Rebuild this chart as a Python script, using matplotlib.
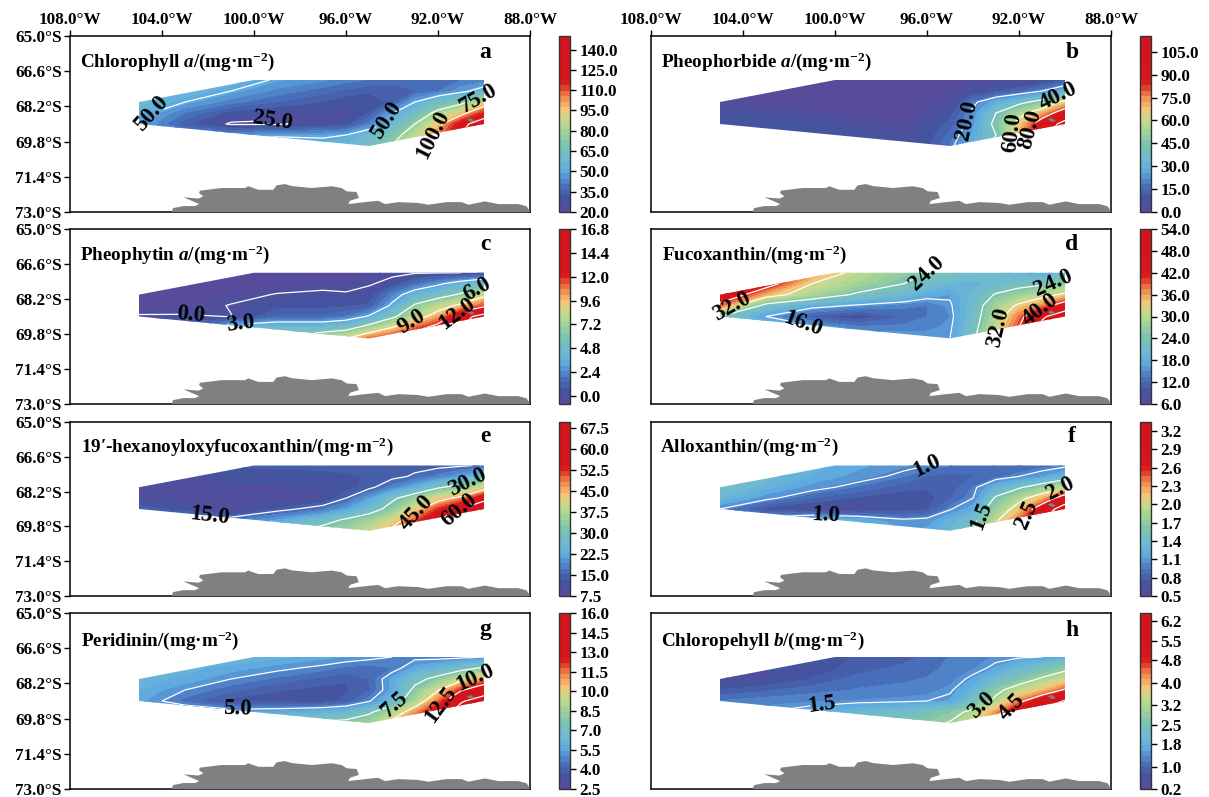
import numpy as np
import matplotlib
matplotlib.use('Agg')
import matplotlib.pyplot as plt
from matplotlib.colors import LinearSegmentedColormap
from matplotlib.patches import Polygon

plt.rcParams['font.family'] = 'Liberation Serif'
plt.rcParams['font.weight'] = 'bold'
plt.rcParams['mathtext.fontset'] = 'custom'
plt.rcParams['mathtext.rm'] = 'Liberation Serif:bold'
plt.rcParams['mathtext.it'] = 'Liberation Serif:italic:bold'
plt.rcParams['mathtext.bf'] = 'Liberation Serif:bold'
plt.rcParams['mathtext.default'] = 'regular'
plt.rcParams['axes.unicode_minus'] = False

W, H = 1209, 797

lons = [105, 103, 101, 99, 97, 96, 95, 94, 93, 92, 91, 90]
lats = [67, 67.5, 68, 68.5, 69, 69.5, 70]

domain_lon = [105, 100, 90, 90, 95, 105]
domain_lat = [68, 67, 67, 69, 70, 69]

land_lon = [103.58, 103.51, 103.07, 102.57, 102.38, 103.07, 102.42, 102.2, 102.39, 102.35, 101.41, 100.39, 100.25,
            99.81, 99.16, 99.02, 98.65, 98.36, 97.49, 96.62, 96.19, 95.97, 95.54, 95.44, 95.83, 95.9, 95.17, 94.6,
            94.3, 93.73, 92.86, 92.42, 91.62, 90.97, 90.68, 89.96, 89.38, 88.51, 88.15, 88.0, 88.0, 103.58]
land_lat = [72.97, 72.82, 72.73, 72.73, 72.64, 72.33, 72.39, 72.29, 72.14, 72.03, 71.91, 71.91, 71.83,
            71.99, 71.99, 71.79, 71.73, 71.82, 71.91, 71.83, 71.91, 72.06, 72.09, 72.36, 72.49, 72.64, 72.55, 72.49,
            72.64, 72.55, 72.59, 72.67, 72.55, 72.55, 72.67, 72.52, 72.64, 72.64, 72.74, 72.97, 73.0, 73.0]
island_lon = [90.75, 90.6, 90.4, 90.55]
island_lat = [68.8, 68.72, 68.85, 68.92]

lon_ticks = [108, 104, 100, 96, 92, 88]
lat_ticks = [65.0, 66.6, 68.2, 69.8, 71.4, 73.0]

chl_a = [
    [60, 60, 55, 49, 45, 42, 40, 38, 38, 38, 40, 42],
    [60, 56, 50, 43, 38, 35, 33, 33, 36, 40, 47, 55],
    [58, 50, 42, 36, 32, 29, 29, 33, 50, 62, 70, 90],
    [54, 40, 30, 27, 26, 27, 32, 49, 62, 80, 95, 115],
    [50, 33, 24, 24, 28, 30, 42, 56, 75, 95, 120, 135],
    [50, 45, 45, 48, 48, 50, 58, 68, 85, 105, 125, 140],
    [60, 60, 60, 60, 55, 58, 62, 75, 95, 115, 135, 149],
]
pheophorbide = [
    [2, 2, 2, 2, 2, 2, 2, 3, 3, 4, 6, 10],
    [2, 2, 2, 2, 2, 2, 3, 6, 10, 14, 20, 30],
    [3, 2, 2, 2, 2, 3, 5, 18, 28, 36, 45, 65],
    [8, 7, 4, 2, 2, 5, 9, 22, 40, 55, 70, 90],
    [9, 9, 8, 5, 3, 8, 12, 24, 44, 65, 90, 105],
    [10, 10, 10, 10, 6, 8, 16, 26, 40, 70, 95, 112],
    [10, 10, 10, 10, 10, 10, 18, 30, 45, 75, 100, 115],
]
pheophytin = [
    [-.5, -.5, -.5, -.5, -.4, -.4, -.3, -.2, -.1, -.05, 0, .3],
    [-.5, -.5, -.5, -.4, -.3, -.3, -.1, .3, 1.7, 2.7, 3.9, 5.0],
    [-.5, -.4, -.3, .05, .2, .1, .4, 2.2, 4.0, 5.0, 6.3, 8.4],
    [-.45, -.4, .05, .6, .6, .7, 1.0, 3.3, 6.3, 8.0, 9.5, 11.5],
    [.1, .1, -.02, 1.5, 1.5, 2.0, 3.2, 5.5, 8.0, 10, 14, 16],
    [1, 1.5, 4, 4.5, 4.5, 5, 7, 9, 11, 13, 15, 16.7],
    [2, 3, 4.5, 6, 8, 9, 11, 12, 14, 15, 16.7, 16.7],
]
fucoxanthin = [
    [48, 44, 37, 30, 26, 24, 23, 21, 20, 19, 17, 20],
    [48, 43, 32, 28, 24, 21, 19.5, 19, 20, 22, 23, 26],
    [46, 35, 28.5, 23, 20, 17.5, 16.5, 20, 24.5, 27, 30, 33],
    [38, 22, 17.5, 15.5, 14, 13.5, 15.5, 21, 28, 33, 37, 44],
    [24, 16, 11, 9, 12, 13.5, 15, 21.5, 29, 38, 47, 52],
    [28, 20, 17, 14, 14, 14.5, 15.5, 22, 31, 40, 50, 53.9],
    [30, 24, 20, 17, 16.5, 16, 16, 23, 33, 42, 52, 53.9],
]
hexanoyl = [
    [13, 13, 13.5, 14, 14, 14, 14, 14, 14, 14, 14.5, 15.5],
    [11, 11, 12, 12, 12.5, 13, 13.5, 14, 15.5, 18, 21, 28],
    [11, 11, 11, 11, 11.5, 12.5, 14, 18, 23, 29, 33, 41],
    [11, 10.5, 10, 10, 11, 15, 21, 28.5, 35, 42, 47, 57],
    [14.5, 12, 9, 13.5, 17, 21, 26, 33, 42, 52, 60, 68],
    [20, 18, 17, 21, 27, 31, 35, 41, 50, 60, 68, 69.5],
    [25, 24, 24, 27, 33, 36, 40, 47, 55, 65, 69.5, 69.5],
]
alloxanthin = [
    [1.55, 1.45, 1.25, 1.15, 1.05, 1.0, .95, .9, .85, .85, .9, .95],
    [1.5, 1.35, 1.2, 1.08, .95, .85, .82, .85, .9, 1.0, 1.1, 1.3],
    [1.45, 1.25, 1.07, .93, .8, .78, .8, .95, 1.25, 1.45, 1.7, 1.95],
    [1.3, 1.05, .85, .75, .7, .72, .85, 1.0, 1.55, 1.9, 2.2, 2.75],
    [1.0, .72, .62, .6, .7, .75, .98, 1.2, 1.75, 2.15, 2.75, 3.2],
    [1.2, 1.1, 1.3, 1.2, 1.02, 1.05, 1.25, 1.4, 1.95, 2.4, 3.0, 3.34],
    [1.4, 1.4, 1.4, 1.35, 1.15, 1.15, 1.3, 1.55, 2.05, 2.5, 3.1, 3.34],
]
peridinin = [
    [6.2, 6.2, 6.2, 6.0, 5.6, 5.4, 5.2, 5.0, 4.8, 4.7, 4.8, 5.0],
    [6.0, 6.0, 5.7, 5.2, 4.8, 4.5, 4.4, 4.6, 5.6, 6.2, 6.9, 7.7],
    [6.0, 5.8, 5.0, 4.5, 4.0, 3.8, 4.2, 5.6, 7.0, 8.0, 9.5, 11],
    [5.9, 5.0, 4.3, 3.8, 3.6, 3.7, 4.1, 5.6, 7.9, 9.9, 12.3, 14],
    [5.6, 4.4, 3.6, 3.6, 3.5, 3.9, 4.9, 6.4, 8.9, 11.5, 14.8, 15.9],
    [6.5, 6.0, 5.5, 5.6, 6.0, 6.3, 7.2, 8.8, 11, 13.5, 15.9, 15.9],
    [7.5, 7.5, 7.5, 7.5, 7.8, 8.0, 8.6, 10.5, 12.5, 15, 15.9, 15.9],
]
chl_b = [
    [.7, .7, .75, .8, .9, 1.05, 1.2, 1.3, 1.4, 1.45, 1.5, 1.8],
    [.5, .6, .7, .85, 1.05, 1.1, 1.25, 1.35, 1.6, 2.0, 2.4, 2.8],
    [.35, .55, .8, 1.1, 1.15, 1.2, 1.3, 1.6, 2.1, 2.6, 3.1, 3.5],
    [.8, .95, 1.1, 1.2, 1.25, 1.3, 1.45, 1.85, 2.8, 3.4, 3.9, 4.6],
    [1.2, 1.3, 1.35, 1.4, 1.45, 1.5, 1.6, 2.3, 3.2, 4.3, 5.2, 6.1],
    [1.4, 1.5, 1.7, 2.0, 2.2, 2.4, 2.7, 3.2, 4.2, 5.4, 6.4, 6.45],
    [1.7, 1.9, 2.2, 2.4, 2.6, 2.8, 3.05, 3.6, 4.8, 6.0, 6.45, 6.45],
]

titles = [r"Chlorophyll $\mathit{a}$/(mg·m$^{-2}$)", r"Pheophorbide $\mathit{a}$/(mg·m$^{-2}$)",
          r"Pheophytin $\mathit{a}$/(mg·m$^{-2}$)", r"Fucoxanthin/(mg·m$^{-2}$)",
          r"19′-hexanoyloxyfucoxanthin/(mg·m$^{-2}$)", r"Alloxanthin/(mg·m$^{-2}$)",
          r"Peridinin/(mg·m$^{-2}$)", r"Chloropehyll $\mathit{b}$/(mg·m$^{-2}$)"]
letters = list("abcdefgh")
fields = [chl_a, pheophorbide, pheophytin, fucoxanthin, hexanoyl, alloxanthin, peridinin, chl_b]
ranges = [(20, 150), (0, 115.4), (-0.8, 16.8), (6, 54), (7.5, 69.6), (0.5, 3.35), (2.5, 16), (0.2, 6.5)]
cbar_ticks = [
    [20, 35, 50, 65, 80, 95, 110, 125, 140],
    [0, 15, 30, 45, 60, 75, 90, 105],
    [0, 2.4, 4.8, 7.2, 9.6, 12, 14.4, 16.8],
    [6, 12, 18, 24, 30, 36, 42, 48, 54],
    [7.5, 15, 22.5, 30, 37.5, 45, 52.5, 60, 67.5],
    [0.5, 0.8, 1.1, 1.4, 1.7, 2.0, 2.3, 2.6, 2.9, 3.2],
    [2.5, 4, 5.5, 7, 8.5, 10, 11.5, 13, 14.5, 16],
    [0.2, 1.0, 1.8, 2.5, 3.2, 4.0, 4.8, 5.5, 6.2],
]
contour_levels = [
    [25, 50, 75, 100, 125],
    [20, 40, 60, 80, 100],
    [0, 3, 6, 9, 12, 15],
    [16, 24, 32, 40, 48],
    [15, 30, 45, 60],
    [1.0, 1.5, 2.0, 2.5, 3.0],
    [5, 7.5, 10, 12.5, 15],
    [1.5, 3.0, 4.5, 6.0],
]
label_positions = [
    [(104.75, 68.45), (99.2, 68.7), (94.4, 68.8), (90.4, 67.7), (92.6, 69.4)],
    [(94.43, 68.8), (90.37, 67.64), (92.2, 69.4), (91.55, 69.25)],
    [(102.75, 68.82), (100.6, 69.32), (90.3, 67.75), (93.25, 69.13), (91.3, 68.78)],
    [(104.6, 68.44), (95.9, 67.06), (101.3, 69.2), (90.6, 67.37), (91.2, 68.6), (92.9, 69.5)],
    [(101.9, 69.13), (90.83, 67.68), (93, 69.13), (91.1, 69.05)],
    [(95.9, 67.0), (100.4, 69.35), (93.75, 69.27), (90.3, 67.97), (91.7, 69.27)],
    [(100.75, 69.09), (94, 69.09), (90.3, 68.02), (91.9, 69.17)],
    [(100.6, 69.09), (93.84, 69.09), (92.3, 69.25)],
]

cmap = LinearSegmentedColormap.from_list('pig', [
    (0.00, '#5b4a9b'), (0.08, '#45549f'), (0.15, '#4a72bd'), (0.23, '#5ea9e0'), (0.30, '#6fbad0'),
    (0.38, '#7cc3b0'), (0.46, '#a4d396'), (0.53, '#c9da8e'), (0.58, '#f0c878'), (0.63, '#f2a05e'),
    (0.68, '#ea6a3c'), (0.72, '#dc2a20'), (0.75, '#d6141a'), (1.00, '#d2141e')])

col_px = [(70, 530, 559, 570), (651, 1111, 1140, 1151)]
row_px = [(36, 212), (229, 404), (422, 596), (613, 789)]
title_px = [(80, 62), (661, 62), (80, 255), (662, 255), (81, 447), (660, 447), (81, 641), (661, 641)]
letter_px = [(485, 52), (1072, 52), (485, 245), (1072, 245), (485, 437), (1072, 437), (485, 630), (1072, 630)]

fig = plt.figure(figsize=(W / 100, H / 100), dpi=100)
FS = 12.3


def rect(x0, x1, y0, y1):
    return [x0 / W, 1 - y1 / H, (x1 - x0) / W, (y1 - y0) / H]


for i, z in enumerate(fields):
    row, col = i // 2, i % 2
    x0, x1, cx0, cx1 = col_px[col]
    y0, y1 = row_px[row]
    ax = fig.add_axes(rect(x0, x1, y0, y1))
    vmin, vmax = ranges[i]
    levels = np.linspace(vmin, vmax, 33)
    LON, LAT = np.meshgrid(lons, lats)
    Z = np.array(z, dtype=float)
    cf = ax.contourf(LON, LAT, Z, levels=levels, cmap=cmap, vmin=vmin, vmax=vmax)
    cl = ax.contour(LON, LAT, Z, levels=contour_levels[i], colors='white', linewidths=0.9)
    ax.clabel(cl, levels=contour_levels[i], fmt='%.1f', fontsize=16.5, colors='black',
              inline=True, inline_spacing=1, manual=label_positions[i])
    clip = Polygon(np.column_stack([domain_lon, domain_lat]), closed=True, transform=ax.transData,
                   facecolor='none', edgecolor='none')
    ax.add_patch(clip)
    cf.set_clip_path(clip)
    cl.set_clip_path(clip)
    ax.fill(land_lon, land_lat, color='#808083', lw=0, zorder=3)
    ax.fill(island_lon, island_lat, color='#808083', lw=0, zorder=3)
    ax.set_xlim(108, 88)
    ax.set_ylim(73, 65)
    if row == 0:
        ax.xaxis.tick_top()
        ax.set_xticks(lon_ticks)
        ax.set_xticklabels([f"{v:.1f}°W" for v in lon_ticks], fontsize=FS)
    else:
        ax.set_xticks([])
    if col == 0:
        ax.set_yticks(lat_ticks)
        ax.set_yticklabels([f"{v:.1f}°S" for v in lat_ticks], fontsize=FS)
    else:
        ax.set_yticks([])
    ax.tick_params(length=4, width=1.0, pad=2)
    for s in ax.spines.values():
        s.set_linewidth(1.1)
    fig.text(title_px[i][0] / W, 1 - title_px[i][1] / H, titles[i], fontsize=13.8, va='center', ha='left')
    fig.text(letter_px[i][0] / W, 1 - letter_px[i][1] / H, letters[i], fontsize=17, va='center', ha='center')

    cax = fig.add_axes(rect(cx0, cx1, y0, y1))
    cb = fig.colorbar(cf, cax=cax, ticks=cbar_ticks[i])
    cax.set_ylim(vmin, vmax)
    cb.set_ticklabels([f"{v:.1f}" for v in cbar_ticks[i]], fontsize=FS)
    cax.tick_params(length=4, width=1.0, pad=3, labelsize=FS)
    cb.outline.set_linewidth(1.0)
    cb.outline.set_edgecolor('#333333')

fig.savefig('out.png', dpi=100)
